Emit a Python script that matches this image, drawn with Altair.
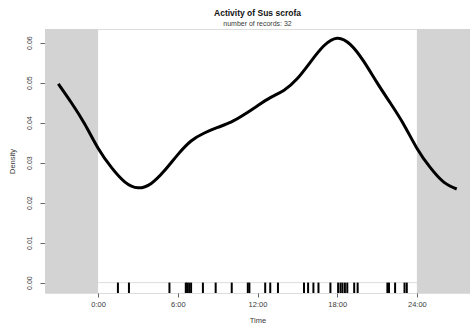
import altair as alt
import pandas as pd

# Density curve (hour, density)
curve_hours = [-3, -2, -1, 0, 1, 2, 3, 4, 5, 6, 7, 8, 9, 10, 11, 12, 13, 14, 15,
               16, 17, 18, 19, 20, 21, 22, 23, 24, 25, 26, 27]
curve_density = [0.0497, 0.0449, 0.0396, 0.0336, 0.0288, 0.0252, 0.0237, 0.0248,
                 0.0280, 0.0320, 0.0354, 0.0374, 0.0388, 0.0401, 0.0420, 0.0442,
                 0.0463, 0.0481, 0.0510, 0.0552, 0.0592, 0.0611, 0.0595, 0.0553,
                 0.0500, 0.0449, 0.0396, 0.0336, 0.0288, 0.0252, 0.0234]

# Record times (hours) read from the rug
record_hours = [1.49, 2.32, 5.37, 6.6, 6.7, 6.85, 7.0, 7.89, 8.85, 10.06, 11.27,
                11.39, 12.58, 12.96, 13.54, 15.50, 15.81, 16.21, 16.59, 17.49,
                18.07, 18.25, 18.40, 18.58, 18.76, 19.28, 19.54, 21.78, 21.90,
                22.36, 23.07, 23.24]

shade_start = [-4, 24]
shade_end = [0, 28]

x_ticks = [0, 6, 12, 18, 24]
y_ticks = [0.00, 0.01, 0.02, 0.03, 0.04, 0.05, 0.06]

X_DOMAIN = [-4, 28]
Y_DOMAIN = [-0.0026, 0.0634]

font = "Liberation Sans"
txt = "#3a3a3a"

xscale = alt.Scale(domain=X_DOMAIN, nice=False, zero=False)
yscale = alt.Scale(domain=Y_DOMAIN, nice=False, zero=False)

curve_df = pd.DataFrame({"hour": curve_hours, "density": curve_density})
rug_df = pd.DataFrame({"hour": record_hours})
shade_df = pd.DataFrame({"start": shade_start, "end": shade_end})

x_axis = alt.Axis(values=x_ticks, labelExpr="datum.value + ':00'", title="Time",
                  grid=False, domain=False, tickColor="#666", tickSize=4,
                  labelFont=font, labelFontSize=7.5, labelColor=txt, labelPadding=3,
                  titleFont=font, titleFontSize=7.5, titleFontWeight="normal",
                  titleColor=txt, titlePadding=9)
y_axis = alt.Axis(values=y_ticks, format=".2f", title="Density", grid=False,
                  domain=False, tickColor="#666", tickSize=5, labelAngle=270,
                  labelAlign="center", labelBaseline="bottom",
                  labelFont=font, labelFontSize=7, labelColor=txt, labelPadding=8,
                  titleFont=font, titleFontSize=7.5, titleFontWeight="normal",
                  titleColor=txt, titlePadding=9)

shade = alt.Chart(shade_df).mark_rect(color="#d3d3d3").encode(
    x=alt.X("start:Q", scale=xscale, axis=x_axis),
    x2="end:Q",
)

baseline = alt.Chart(pd.DataFrame({"a": [0], "b": [24]})).mark_rule(
    color="#dddddd", strokeWidth=1).encode(
    x=alt.X("a:Q", scale=xscale),
    x2="b:Q",
    y=alt.datum(0, scale=yscale),
)

rug = alt.Chart(rug_df).mark_rule(color="black", strokeWidth=2).encode(
    x=alt.X("hour:Q", scale=xscale),
    y=alt.datum(0, scale=yscale),
    y2=alt.datum(Y_DOMAIN[0]),
)

line = alt.Chart(curve_df).mark_line(color="black", strokeWidth=3,
                                     interpolate="natural").encode(
    x=alt.X("hour:Q", scale=xscale),
    y=alt.Y("density:Q", scale=yscale, axis=y_axis),
)

chart = alt.layer(shade, baseline, rug, line).properties(
    width=425,
    height=264,
    autosize=alt.AutoSizeParams(type="none"),
    padding={"left": 45, "top": 29, "right": 0, "bottom": 36},
    title=alt.TitleParams(
        text="Activity of Sus scrofa",
        subtitle="number of records: 32",
        font=font, fontSize=8.5, fontWeight="bold", color="#111",
        subtitleFont=font, subtitleFontSize=7, subtitleColor=txt,
        subtitlePadding=3, offset=2, anchor="middle",
    ),
).configure_view(stroke="#888888", strokeWidth=1).configure(background="white")

chart.save("out.html", embed_options={"renderer": "svg", "actions": False})
